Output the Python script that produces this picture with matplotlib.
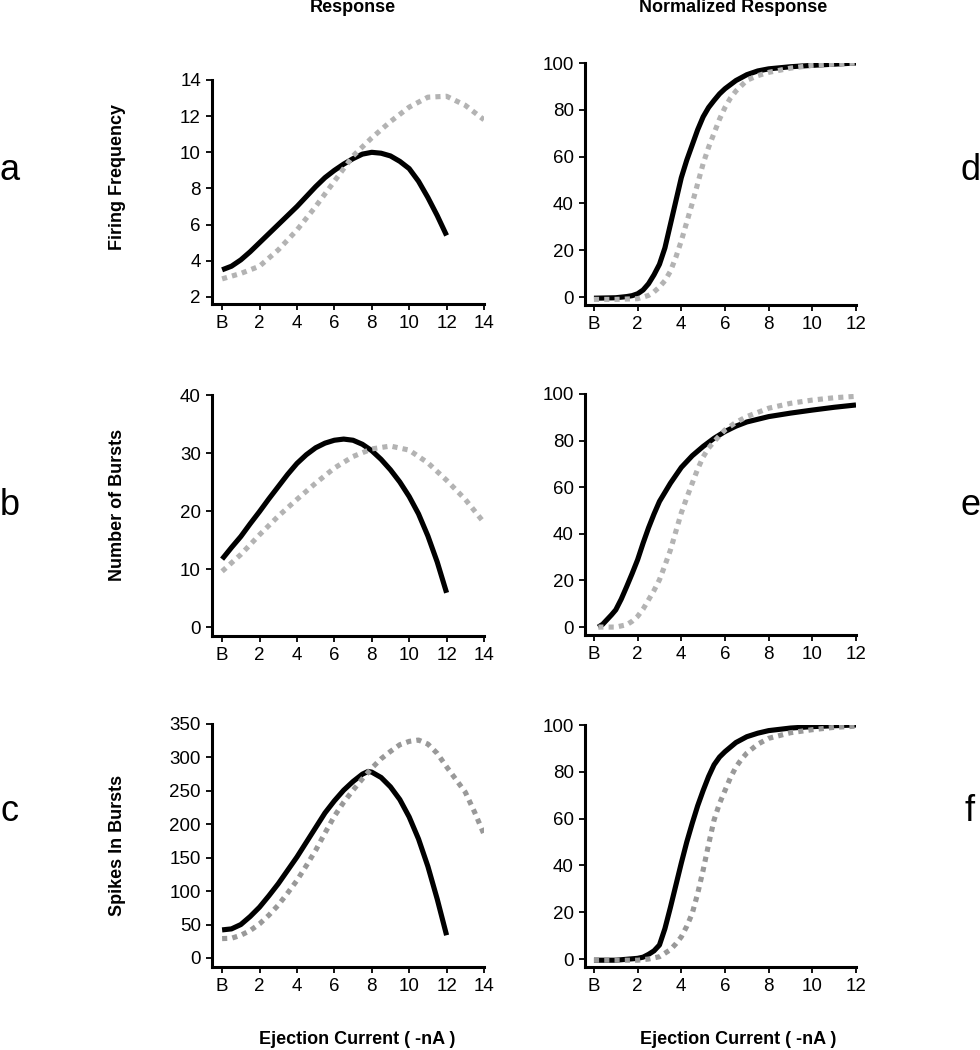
#!/usr/bin/env python3
"""
Dose-response panels: raw response (left) and normalized response (right)
versus ejection current, two conditions each (solid black vs grey dotted).
"""
import matplotlib
matplotlib.use("Agg")
import matplotlib.pyplot as plt

plt.rcParams['font.family'] = ['Liberation Sans', 'DejaVu Sans']

# --- data (x in nA, B = baseline = 0) ---
# a: firing frequency
freq_x_black = [0, 0.5, 1, 1.5, 2, 2.5, 3, 3.5, 4, 4.5, 5, 5.5, 6, 6.5, 7, 7.5, 8, 8.5, 9, 9.5,
                10, 10.5, 11, 11.5, 12]
freq_y_black = [3.5, 3.7, 4.05, 4.5, 5.0, 5.5, 6.0, 6.5, 7.0, 7.55, 8.1, 8.6, 9.0, 9.35, 9.65, 9.9,
                10.0, 9.95, 9.8, 9.5, 9.1, 8.4, 7.5, 6.5, 5.4]
freq_x_grey = [0, 1, 2, 3, 4, 5, 6, 7, 8, 9, 10, 11, 12, 13, 14]
freq_y_grey = [3.0, 3.3, 3.7, 4.6, 5.7, 7.0, 8.4, 9.8, 10.8, 11.7, 12.5, 13.05, 13.1, 12.6, 11.8]

# d: normalized firing frequency
nfreq_x_black = [0, 1, 1.5, 1.75, 2, 2.25, 2.5, 2.75, 3, 3.25, 3.5, 3.75, 4, 4.25, 4.5, 4.75,
                 5, 5.25, 5.5, 5.75, 6, 6.5, 7, 7.5, 8, 9, 10, 11, 12]
nfreq_y_black = [-0.5, -0.3, 0.2, 0.6, 1.4, 3, 5.7, 9.5, 14, 21, 31, 41, 51, 58.5, 65, 71.5,
                 77, 81, 84, 86.8, 89, 92.5, 95, 96.6, 97.5, 98.4, 99, 99.5, 100]
nfreq_x_grey = [0, 1, 2, 2.5, 2.75, 3, 3.25, 3.5, 3.75, 4, 4.25, 4.5, 4.75, 5, 5.25, 5.5, 5.75,
                6, 6.25, 6.5, 7, 7.5, 8, 9, 10, 11, 12]
nfreq_y_grey = [-1, -1, -0.7, 0.7, 2.2, 4.3, 7, 11, 17, 24, 32, 40, 48.5, 57, 64, 70, 76,
                81, 85, 88, 92.6, 94.6, 96, 97.8, 99, 99.5, 100]

# b: number of bursts
burst_x_black = [0, 0.5, 1, 1.5, 2, 2.5, 3, 3.5, 4, 4.5, 5, 5.5, 6, 6.5, 7, 7.5, 8, 8.5, 9, 9.5,
                 10, 10.5, 11, 11.5, 12]
burst_y_black = [11.7, 13.7, 15.6, 17.8, 19.9, 22.1, 24.2, 26.3, 28.2, 29.7, 30.9, 31.7, 32.2,
                 32.4, 32.2, 31.5, 30.4, 28.9, 27.1, 25.0, 22.5, 19.5, 15.7, 11.2, 5.9]
burst_x_grey = [0, 1, 2, 3, 4, 5, 6, 7, 8, 9, 10, 11, 12, 13, 14]
burst_y_grey = [9.6, 12.5, 15.9, 19.1, 22.0, 24.8, 27.4, 29.4, 30.7, 31.2, 30.5, 28.3, 25.3, 22.0, 18.0]

# e: normalized number of bursts
nburst_x_black = [0.2, 0.4, 0.6, 0.8, 1, 1.25, 1.5, 1.75, 2, 2.25, 2.5, 2.75, 3, 3.5, 4, 4.5,
                  5, 5.5, 6, 6.5, 7, 8, 9, 10, 11, 12]
nburst_y_black = [0, 1.2, 3.2, 5.2, 7.4, 12, 17.4, 23, 28.9, 36, 42.6, 48.5, 53.9, 61.7, 68.5,
                  73.5, 77.5, 81, 83.9, 86.2, 88, 90.3, 91.8, 93.1, 94.3, 95.3]
nburst_x_grey = [0.2, 1, 1.5, 1.75, 2, 2.25, 2.5, 2.75, 3, 3.25, 3.5, 3.75, 4, 4.25, 4.5, 4.75,
                 5, 5.25, 5.5, 6, 6.5, 7, 8, 9, 10, 11, 12]
nburst_y_grey = [0, 0, 1, 2.5, 4.6, 7.7, 11.7, 15.7, 20.3, 26.5, 33, 41, 49, 55.5, 61.7, 67.8,
                 73, 76.8, 79.6, 84.6, 87.8, 90.3, 93.9, 96, 97.4, 98.4, 99]

# c: spikes in bursts
spike_x_black = [0, 0.5, 1, 1.5, 2, 2.5, 3, 3.5, 4, 4.5, 5, 5.5, 6, 6.5, 7, 7.5, 7.8, 8, 8.5,
                 9, 9.5, 10, 10.5, 11, 11.5, 12]
spike_y_black = [42, 43.5, 50, 62, 76, 93, 111, 131, 151, 173, 195, 217, 235, 251, 264, 275,
                 279, 278, 270, 256, 237, 211, 178, 137, 88, 34]
spike_x_grey = [0, 0.5, 1, 1.5, 2, 2.5, 3, 3.5, 4, 4.5, 5, 5.5, 6, 6.5, 7, 7.5, 8, 8.5, 9, 9.5,
                10, 10.5, 11, 11.5, 12, 12.5, 13, 13.5, 14]
spike_y_grey = [29, 29.5, 34, 41, 51, 64, 79, 97, 116, 138, 161, 187, 212, 233, 251, 268, 284,
                298, 309, 319, 324, 326, 320, 306, 286, 267, 248, 218, 185]

# f: normalized spikes in bursts
nspike_x_black = [0, 1, 2, 2.25, 2.5, 2.75, 3, 3.25, 3.5, 3.75, 4, 4.25, 4.5, 4.75, 5, 5.25,
                  5.5, 5.75, 6, 6.5, 7, 7.5, 8, 9, 10, 11, 12]
nspike_y_black = [-0.5, -0.5, 0.3, 0.8, 2, 3.5, 6, 13, 22, 31.5, 41, 50, 58, 65.5, 72, 78,
                  83, 86.3, 88.6, 92.5, 95, 96.5, 97.6, 98.7, 99.3, 99.7, 100]
nspike_x_grey = [0, 2, 2.5, 3, 3.5, 3.75, 4, 4.25, 4.5, 4.75, 5, 5.25, 5.5, 5.75, 6, 6.25, 6.5,
                 6.75, 7, 7.5, 8, 9, 10, 11, 12]
nspike_y_grey = [-0.5, -0.5, 0, 1, 4, 6.5, 9.5, 14, 19.5, 28, 38, 49, 59.4, 66.5, 72, 77.5, 82,
                 85.3, 88, 91.8, 94.3, 96.7, 98, 99, 99.5]

row_labels = ["Firing Frequency", "Number of Bursts", "Spikes In Bursts"]
left_letters = ["a", "b", "c"]
right_letters = ["d", "e", "f"]

W, H = 980, 1050


def px_axes(fig, left, right, top, bottom):
    return fig.add_axes([left / W, 1 - bottom / H, (right - left) / W, (bottom - top) / H])


def style(ax, xmax, xlim_lo, ylim, yticks):
    for s in ['top', 'right']:
        ax.spines[s].set_visible(False)
    for s in ['left', 'bottom']:
        ax.spines[s].set_linewidth(2.2)
    ax.set_xlim(xlim_lo, xmax)
    ax.set_ylim(*ylim)
    xt = list(range(0, xmax + 1, 2))
    ax.set_xticks(xt)
    ax.set_xticklabels(['B'] + [str(v) for v in xt[1:]])
    ax.set_yticks(yticks)
    ax.tick_params(direction='out', length=4, width=1.3, labelsize=13.5, pad=4)


def plot_pair(ax, xb, yb, xg, yg, grey):
    ax.plot(xb, yb, color='black', lw=3.7, solid_capstyle='butt', zorder=2)
    ax.plot(xg, yg, color=grey, lw=3.7, linestyle=(0, (1, 1)), dash_capstyle='butt', zorder=3)


fig = plt.figure(figsize=(9.8, 10.5), dpi=100)

# row a / d
ax = px_axes(fig, 212, 484, 80, 304)
plot_pair(ax, freq_x_black, freq_y_black, freq_x_grey, freq_y_grey, '#b3b3b3')
style(ax, 14, -0.54, (1.61, 14), range(2, 15, 2))
ax = px_axes(fig, 585, 856, 63, 305)
plot_pair(ax, nfreq_x_black, nfreq_y_black, nfreq_x_grey, nfreq_y_grey, '#b3b3b3')
style(ax, 12, -0.41, (-3.4, 100), range(0, 101, 20))

# row b / e
ax = px_axes(fig, 212, 484, 395, 636)
plot_pair(ax, burst_x_black, burst_y_black, burst_x_grey, burst_y_grey, '#b3b3b3')
style(ax, 14, -0.54, (-1.55, 40), range(0, 41, 10))
ax = px_axes(fig, 585, 856, 394, 635)
plot_pair(ax, nburst_x_black, nburst_y_black, nburst_x_grey, nburst_y_grey, '#b3b3b3')
style(ax, 12, -0.41, (-3.4, 100), range(0, 101, 20))

# row c / f
ax = px_axes(fig, 212, 484, 724, 967)
plot_pair(ax, spike_x_black, spike_y_black, spike_x_grey, spike_y_grey, '#999999')
style(ax, 14, -0.54, (-13.5, 350), range(0, 351, 50))
ax = px_axes(fig, 585, 856, 725, 967)
plot_pair(ax, nspike_x_black, nspike_y_black, nspike_x_grey, nspike_y_grey, '#999999')
style(ax, 12, -0.41, (-3.4, 100), range(0, 101, 20))

# text
fig.text(353 / W, 1 - 8 / H, "Response", ha='center', va='center', fontsize=13, fontweight='bold')
fig.text(733 / W, 1 - 8 / H, "Normalized Response", ha='center', va='center', fontsize=13, fontweight='bold')
for xc in (357, 738):
    fig.text(xc / W, 1 - 1040 / H, "Ejection Current ( -nA )", ha='center', va='center',
             fontsize=13, fontweight='bold')

for lbl, yc in zip(row_labels, (177, 505, 845)):
    fig.text(117 / W, 1 - yc / H, lbl, ha='center', va='center', rotation=90,
             fontsize=13, fontweight='bold')

for l, r, yb in zip(left_letters, right_letters, (180, 515, 821)):
    fig.text(10 / W, 1 - yb / H, l, ha='center', va='baseline', fontsize=26)
    fig.text(970 / W, 1 - yb / H, r, ha='center', va='baseline', fontsize=26)

fig.savefig("out.png", dpi=100)
